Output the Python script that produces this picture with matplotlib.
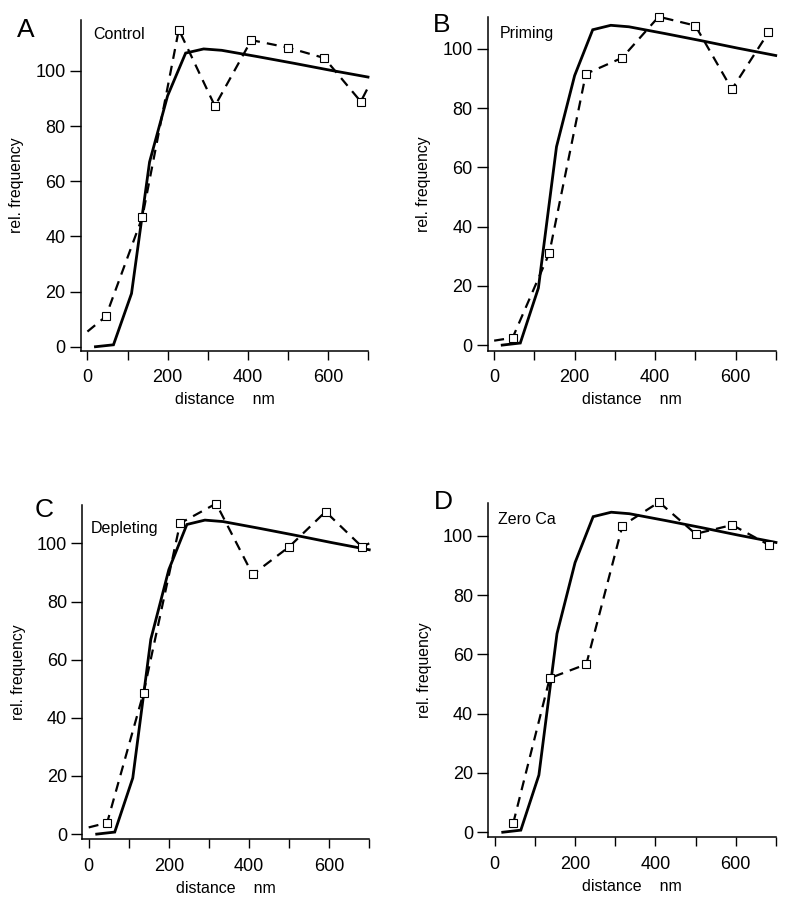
import matplotlib
matplotlib.use("Agg")
import matplotlib.pyplot as plt

plt.rcParams['font.family'] = ['Liberation Sans', 'DejaVu Sans']

# Theoretical (solid) curve, same in all panels
model_x = [20, 65, 110, 155, 200, 245, 290, 335, 425, 515, 605, 700]
model_y = [0, 0.7, 19.3, 67, 91, 106.5, 108, 107.5, 105.2, 102.8, 100.3, 97.8]

# Measured (dashed) data: bin centres
bin_x = [46, 137, 228, 318, 409, 500, 591, 682]

control_y = [11, 47, 115, 87.3, 111.2, 108.5, 104.7, 88.9]
priming_y = [2.5, 31, 91.6, 97, 110.9, 107.9, 86.4, 105.6]
depleting_y = [3.9, 48.7, 106.9, 113.7, 89.3, 98.8, 110.9, 98.8]
zeroca_y = [3.0, 52, 56.7, 103.5, 111.4, 100.7, 103.7, 97]

# dashed-line end points (line only, no marker)
control_start, control_end = 5.5, 94
priming_start = 1.5
depleting_start, depleting_end = 2.3, 100
zeroca_end = 97.5

panels = [
    dict(letter="A", label="Control", rect=[0.1032, 0.6103, 0.3656, 0.3675],
         ylim=(-1.45, 118.5), lx=0.042, ly=0.955, my=control_y,
         dx=[0] + bin_x + [700], dy=[control_start] + control_y + [control_end],
         letter_xy=(17, 30)),
    dict(letter="B", label="Priming", rect=[0.6213, 0.6103, 0.3669, 0.3708],
         ylim=(-1.9, 110.8), lx=0.043, ly=0.952, my=priming_y,
         dx=[0] + bin_x, dy=[priming_start] + priming_y,
         letter_xy=(433, 25)),
    dict(letter="C", label="Depleting", rect=[0.1048, 0.0674, 0.3656, 0.3715],
         ylim=(-1.8, 113.2), lx=0.03, ly=0.931, my=depleting_y,
         dx=[0] + bin_x + [700], dy=[depleting_start] + depleting_y + [depleting_end],
         letter_xy=(35, 510)),
    dict(letter="D", label="Zero Ca", rect=[0.622, 0.0697, 0.3665, 0.3717],
         ylim=(-1.7, 111.2), lx=0.034, ly=0.951, my=zeroca_y,
         dx=bin_x + [700], dy=zeroca_y + [zeroca_end],
         letter_xy=(434, 502)),
]

fig = plt.figure(figsize=(7.85, 9.0), dpi=100)

for p in panels:
    ax = fig.add_axes(p["rect"])
    ax.plot(model_x, model_y, color="black", lw=2.0, solid_joinstyle="miter",
            clip_on=False)
    ax.plot(p["dx"], p["dy"], color="black", lw=1.6, ls=(0, (4.5, 3.2)),
            clip_on=False)
    ax.plot(bin_x, p["my"], ls="none", marker="s", ms=6, mfc="white",
            mec="black", mew=0.8, clip_on=False)
    ax.set_xlim(-16, 700)
    ax.set_ylim(*p["ylim"])
    ax.spines["top"].set_visible(False)
    ax.spines["right"].set_visible(False)
    ax.spines["left"].set_linewidth(1.1)
    ax.spines["bottom"].set_linewidth(1.1)
    ax.set_xticks([0, 100, 200, 300, 400, 500, 600, 700])
    ax.set_xticklabels(["0", "", "200", "", "400", "", "600", ""])
    ax.set_yticks([0, 20, 40, 60, 80, 100])
    ax.tick_params(axis="both", direction="out", width=1.0,
                   labelsize=13, colors="black")
    ax.tick_params(axis="x", length=6.5, pad=7)
    ax.tick_params(axis="y", length=8, pad=3)
    ax.set_xlabel("distance    nm", fontsize=11.5, labelpad=4)
    ax.set_ylabel("rel. frequency", fontsize=11.3, labelpad=8)
    ax.text(p["lx"], p["ly"], p["label"], transform=ax.transAxes,
            fontsize=11.5, va="center", ha="left")
    fig.text(p["letter_xy"][0] / 785, 1 - p["letter_xy"][1] / 900, p["letter"],
             fontsize=19, va="center", ha="left")

fig.savefig("out.png", dpi=100)
